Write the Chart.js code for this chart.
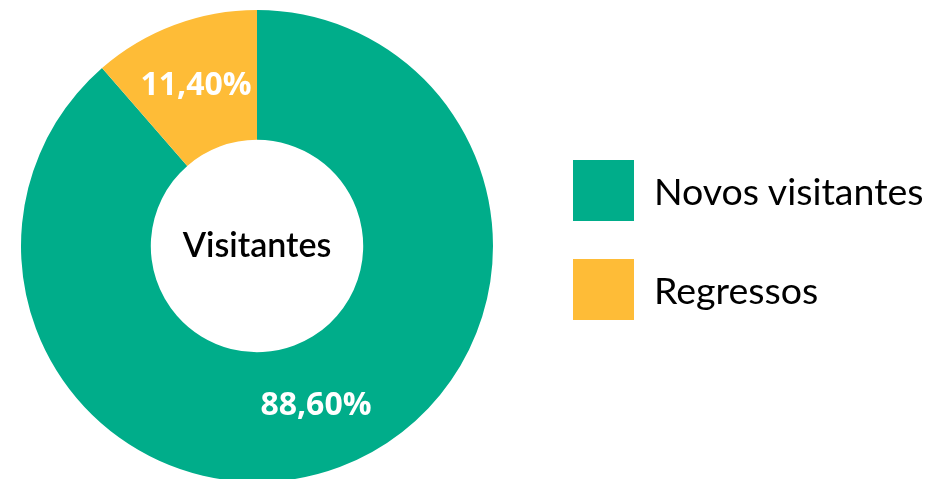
<!DOCTYPE html>
<html>
<head>
<meta charset="utf-8">
<script src="https://cdn.jsdelivr.net/npm/chart.js@4/dist/chart.umd.min.js"></script>
<style>
  html, body { margin: 0; padding: 0; background: #fff; overflow: hidden; width: 930px; height: 479px; }
  #wrap { position: absolute; left: 0; top: 0; width: 930px; height: 490px; }
  #legend { position: absolute; left: 573px; top: 160px; font-family: Lato, "Open Sans", sans-serif; color: #000; }
  .item { position: absolute; left: 0; height: 61px; white-space: nowrap; }
  .sw { position: absolute; left: 0; top: 0; width: 61px; height: 61px; }
  .lb { position: absolute; left: 81px; top: 0; line-height: 61px; font-size: 37.5px; }
</style>
</head>
<body>
<div id="wrap"><canvas id="c" width="930" height="490"></canvas></div>
<div id="legend"></div>
<script>
const categories = ["Novos visitantes", "Regressos"];
const values = [88.6, 11.4];
const valueLabels = ["88,60%", "11,40%"];
const colors = ["#00AD8A", "#FEBC37"];
const centerText = "Visitantes";

// HTML legend built from the arrays
const legend = document.getElementById('legend');
categories.forEach((c, i) => {
  const it = document.createElement('div');
  it.className = 'item';
  it.style.top = (i * 99) + 'px';
  const sw = document.createElement('div');
  sw.className = 'sw';
  sw.style.background = colors[i];
  const lb = document.createElement('div');
  lb.className = 'lb';
  lb.textContent = c;
  it.appendChild(sw); it.appendChild(lb);
  legend.appendChild(it);
});

const labelPlugin = {
  id: 'labelPlugin',
  afterDatasetsDraw(chart) {
    const ctx = chart.ctx;
    const meta = chart.getDatasetMeta(0);
    ctx.save();
    ctx.fillStyle = '#fff';
    ctx.font = 'bold 32px "Open Sans", sans-serif';
    ctx.textAlign = 'center';
    ctx.textBaseline = 'middle';
    meta.data.forEach((arc, i) => {
      const p = arc.tooltipPosition();
      ctx.fillText(valueLabels[i], p.x - 1, p.y);
    });
    const a = meta.data[0];
    ctx.fillStyle = '#000';
    ctx.font = '600 34px Lato, sans-serif';
    ctx.fillText(centerText, a.x, a.y);
    ctx.restore();
  }
};

new Chart(document.getElementById('c'), {
  type: 'doughnut',
  data: {
    labels: categories,
    datasets: [{
      data: values,
      backgroundColor: colors,
      borderWidth: 0
    }]
  },
  options: {
    responsive: false,
    animation: false,
    cutout: '45%',
    layout: { padding: { left: 21, right: 437, top: 10, bottom: 8 } },
    plugins: { legend: { display: false }, tooltip: { enabled: false } }
  },
  plugins: [labelPlugin]
});
</script>
</body>
</html>
